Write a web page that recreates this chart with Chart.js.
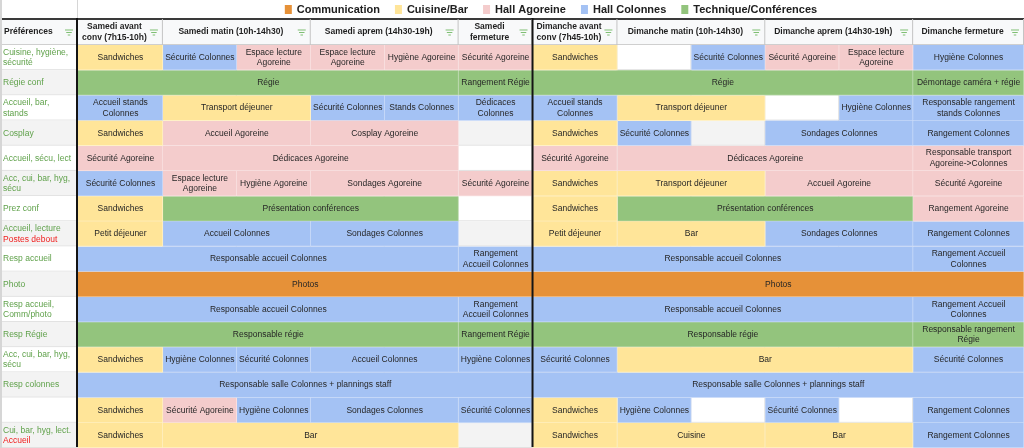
<!DOCTYPE html>
<html lang="fr">
<head>
<meta charset="utf-8">
<title>Planning staff</title>
<script src="https://cdn.jsdelivr.net/npm/chart.js@4.4.1/dist/chart.umd.min.js"></script>
<style>
    html, body { margin: 0; padding: 0; background: #fff; overflow: hidden; }
    canvas { display: block; }
</style>
</head>
<body>
<canvas id="planningChart" width="1024" height="448"></canvas>
<script>
// --- data -------------------------------------------------------------

const categoryNames = ['Communication', 'Cuisine/Bar', 'Hall Agoreine', 'Hall Colonnes', 'Technique/Conférences']

const rowLabels = [
    'Cuisine, hygiène,\nsécurité',
    'Régie conf',
    'Accueil, bar,\nstands',
    'Cosplay',
    'Accueil, sécu, lect',
    'Acc, cui, bar, hyg,\nsécu',
    'Prez conf',
    'Accueil, lecture',
    'Resp accueil',
    'Photo',
    'Resp accueil,\nComm/photo',
    'Resp Régie',
    'Acc, cui, bar, hyg,\nsécu',
    'Resp colonnes',
    '',
    'Cui, bar, hyg, lect.',
]

// second line written in red under some row labels
const rowNotes = ['', '', '', '', '', '', '', 'Postes debout', '', '', '', '', '', '', '', 'Accueil']

const firstColumnTitle = 'Préférences'

const columnTitles = [
    'Samedi avant\nconv (7h15-10h)',
    'Samedi matin (10h-14h30)',
    'Samedi aprem (14h30-19h)',
    'Samedi\nfermeture',
    'Dimanche avant\nconv (7h45-10h)',
    'Dimanche matin (10h-14h30)',
    'Dimanche aprem (14h30-19h)',
    'Dimanche fermeture',
]

// first and last half-slot covered by each column title
const columnSlots = [[0, 1], [1, 3], [3, 5], [5, 6], [6, 7], [7, 9], [9, 11], [11, 12]]

// cells: [row, first slot, end slot, text]
const communicationCells = [
    [9, 0, 6, 'Photos'],
    [9, 6, 12, 'Photos'],
]

const cuisineCells = [
    [0, 0, 1, 'Sandwiches'], [0, 6, 7, 'Sandwiches'],
    [2, 1, 3, 'Transport déjeuner'], [2, 7, 9, 'Transport déjeuner'],
    [3, 0, 1, 'Sandwiches'], [3, 6, 7, 'Sandwiches'],
    [5, 6, 7, 'Sandwiches'], [5, 7, 9, 'Transport déjeuner'],
    [6, 0, 1, 'Sandwiches'], [6, 6, 7, 'Sandwiches'],
    [7, 0, 1, 'Petit déjeuner'], [7, 6, 7, 'Petit déjeuner'], [7, 7, 9, 'Bar'],
    [12, 0, 1, 'Sandwiches'], [12, 7, 11, 'Bar'],
    [14, 0, 1, 'Sandwiches'], [14, 6, 7, 'Sandwiches'],
    [15, 0, 1, 'Sandwiches'], [15, 1, 5, 'Bar'], [15, 6, 7, 'Sandwiches'],
    [15, 7, 9, 'Cuisine'], [15, 9, 11, 'Bar'],
]

const agoreineCells = [
    [0, 2, 3, 'Espace lecture Agoreine'], [0, 3, 4, 'Espace lecture Agoreine'],
    [0, 4, 5, 'Hygiène Agoreine'], [0, 5, 6, 'Sécurité Agoreine'],
    [0, 9, 10, 'Sécurité Agoreine'], [0, 10, 11, 'Espace lecture Agoreine'],
    [3, 1, 3, 'Accueil Agoreine'], [3, 3, 5, 'Cosplay Agoreine'],
    [4, 0, 1, 'Sécurité Agoreine'], [4, 1, 5, 'Dédicaces Agoreine'],
    [4, 6, 7, 'Sécurité Agoreine'], [4, 7, 11, 'Dédicaces Agoreine'],
    [4, 11, 12, 'Responsable transport Agoreine->Colonnes'],
    [5, 1, 2, 'Espace lecture Agoreine'], [5, 2, 3, 'Hygiène Agoreine'],
    [5, 3, 5, 'Sondages Agoreine'], [5, 5, 6, 'Sécurité Agoreine'],
    [5, 9, 11, 'Accueil Agoreine'], [5, 11, 12, 'Sécurité Agoreine'],
    [6, 11, 12, 'Rangement Agoreine'],
    [14, 1, 2, 'Sécurité Agoreine'],
]

const colonnesCells = [
    [0, 1, 2, 'Sécurité Colonnes'], [0, 8, 9, 'Sécurité Colonnes'], [0, 11, 12, 'Hygiène Colonnes'],
    [2, 0, 1, 'Accueil stands Colonnes'], [2, 3, 4, 'Sécurité Colonnes'],
    [2, 4, 5, 'Stands Colonnes'], [2, 5, 6, 'Dédicaces Colonnes'],
    [2, 6, 7, 'Accueil stands Colonnes'], [2, 10, 11, 'Hygiène Colonnes'],
    [2, 11, 12, 'Responsable rangement stands Colonnes'],
    [3, 7, 8, 'Sécurité Colonnes'], [3, 9, 11, 'Sondages Colonnes'], [3, 11, 12, 'Rangement Colonnes'],
    [5, 0, 1, 'Sécurité Colonnes'],
    [7, 1, 3, 'Accueil Colonnes'], [7, 3, 5, 'Sondages Colonnes'],
    [7, 9, 11, 'Sondages Colonnes'], [7, 11, 12, 'Rangement Colonnes'],
    [8, 0, 5, 'Responsable accueil Colonnes'], [8, 5, 6, 'Rangement Accueil Colonnes'],
    [8, 6, 11, 'Responsable accueil Colonnes'], [8, 11, 12, 'Rangement Accueil Colonnes'],
    [10, 0, 5, 'Responsable accueil Colonnes'], [10, 5, 6, 'Rangement Accueil Colonnes'],
    [10, 6, 11, 'Responsable accueil Colonnes'], [10, 11, 12, 'Rangement Accueil Colonnes'],
    [12, 1, 2, 'Hygiène Colonnes'], [12, 2, 3, 'Sécurité Colonnes'], [12, 3, 5, 'Accueil Colonnes'],
    [12, 5, 6, 'Hygiène Colonnes'], [12, 6, 7, 'Sécurité Colonnes'], [12, 11, 12, 'Sécurité Colonnes'],
    [13, 0, 6, 'Responsable salle Colonnes + plannings staff'],
    [13, 6, 12, 'Responsable salle Colonnes + plannings staff'],
    [14, 2, 3, 'Hygiène Colonnes'], [14, 3, 5, 'Sondages Colonnes'], [14, 5, 6, 'Sécurité Colonnes'],
    [14, 7, 8, 'Hygiène Colonnes'], [14, 9, 10, 'Sécurité Colonnes'], [14, 11, 12, 'Rangement Colonnes'],
    [15, 11, 12, 'Rangement Colonnes'],
]

const techniqueCells = [
    [1, 0, 5, 'Régie'], [1, 5, 6, 'Rangement Régie'],
    [1, 6, 11, 'Régie'], [1, 11, 12, 'Démontage caméra + régie'],
    [6, 1, 5, 'Présentation conférences'], [6, 7, 11, 'Présentation conférences'],
    [11, 0, 5, 'Responsable régie'], [11, 5, 6, 'Rangement Régie'],
    [11, 6, 11, 'Responsable régie'], [11, 11, 12, 'Responsable rangement Régie'],
]

// --- layout & style ---------------------------------------------------

// width of each half-slot column on the time axis
const SLOT_WIDTHS = [85, 74, 74, 74, 74, 74, 85, 74, 74, 74, 74, 111]
const COLORS = ['#e69138', '#ffe599', '#f4cccc', '#a4c2f4', '#93c47d']
const FONT = '"Liberation Sans", Arial, sans-serif'
const LINE_H = 10.5

const slotEdges = SLOT_WIDTHS.reduce((acc, w) => {
    acc.push(acc[acc.length - 1] + w)
    return acc
}, [0])

function lighten(hex, amount) {
    const n = parseInt(hex.slice(1), 16)
    const mix = (c) => Math.round(c + (255 - c) * amount)
    return `rgb(${mix(n >> 16)}, ${mix((n >> 8) & 255)}, ${mix(n & 255)})`
}

function toBars(cells) {
    return cells.map(([row, start, end, text]) => ({
        y: 'row' + row,
        x: [slotEdges[start], slotEdges[end]],
        text: text,
    }))
}

function wrapText(ctx, text, maxWidth) {
    const lines = []
    let line = ''
    text.split(' ').forEach((word) => {
        const test = line ? line + ' ' + word : word
        if (line && ctx.measureText(test).width > maxWidth) {
            lines.push(line)
            line = word
        } else {
            line = test
        }
    })
    if (line) lines.push(line)
    return lines
}

function drawLines(ctx, lines, x, cy) {
    lines.forEach((line, k) => {
        ctx.fillText(line, x, cy + (k - (lines.length - 1) / 2) * LINE_H)
    })
}

function drawFilterIcon(ctx, cx, cy) {
    const bars = [[8, -2.5], [5.5, 0], [2.5, 2.5]]
    ctx.strokeStyle = '#7fbf73'
    ctx.lineWidth = 1
    bars.forEach(([w, dy]) => {
        ctx.beginPath()
        ctx.moveTo(cx - w / 2, cy + dy + 0.5)
        ctx.lineTo(cx + w / 2, cy + dy + 0.5)
        ctx.stroke()
    })
}

const sheetPlugin = {
    id: 'sheet',
    beforeDatasetsDraw(chart) {
        const { ctx, chartArea, scales } = chart
        const rowH = chartArea.height / rowLabels.length
        ctx.save()
        rowLabels.forEach((label, i) => {
            const top = scales.y.getPixelForValue(i) - rowH / 2
            ctx.fillStyle = i % 2 ? '#f3f3f3' : '#ffffff'
            ctx.fillRect(0, top, chart.width, rowH)
            ctx.fillStyle = '#e1e1e1'
            ctx.fillRect(0, top + rowH - 1, chart.width, 1)
        })
        ctx.fillStyle = '#e1e1e1'
        slotEdges.forEach((v) => {
            const px = scales.x.getPixelForValue(v)
            ctx.fillRect(px - 1, chartArea.top, 1, chartArea.height)
        })
        ctx.restore()
    },
    afterDatasetsDraw(chart) {
        const { ctx, chartArea, scales } = chart
        const rowH = chartArea.height / rowLabels.length
        const headTop = scales.x.top
        const headBottom = scales.x.bottom
        const headMid = (headTop + headBottom) / 2
        ctx.save()
        ctx.textBaseline = 'middle'

        // text inside every cell
        ctx.font = `8.5px ${FONT}`
        ctx.fillStyle = '#262626'
        ctx.textAlign = 'center'
        chart.data.datasets.forEach((ds, d) => {
            chart.getDatasetMeta(d).data.forEach((bar, j) => {
                const { x, base, y } = bar.getProps(['x', 'base', 'y'], true)
                const lines = wrapText(ctx, ds.data[j].text, Math.abs(x - base) - 3)
                drawLines(ctx, lines, (x + base) / 2, y)
            })
        })

        // row labels, with the red notes
        ctx.textAlign = 'left'
        rowLabels.forEach((label, i) => {
            const cy = scales.y.getPixelForValue(i)
            const lines = label ? label.split('\n') : []
            const colors = lines.map(() => '#5fa14a')
            if (rowNotes[i]) {
                lines.push(rowNotes[i])
                colors.push('#f01c1c')
            }
            lines.forEach((line, k) => {
                ctx.fillStyle = colors[k]
                ctx.fillText(line, 3, cy + (k - (lines.length - 1) / 2) * LINE_H)
            })
        })

        // header row
        ctx.fillStyle = '#f8f9fa'
        ctx.fillRect(0, headTop, chart.width, headBottom - headTop)
        ctx.fillStyle = '#cfcfcf'
        ctx.fillRect(0, headBottom - 1, chart.width, 1)
        ctx.fillStyle = '#3a3a3a'
        ctx.fillRect(0, headTop - 1, chart.width, 2)
        ctx.font = `bold 8.5px ${FONT}`
        ctx.fillStyle = '#1f1f1f'
        ctx.fillText(firstColumnTitle, 4, headMid)
        drawFilterIcon(ctx, chartArea.left - 9, headMid)
        ctx.textAlign = 'center'
        columnTitles.forEach((title, c) => {
            const x0 = scales.x.getPixelForValue(slotEdges[columnSlots[c][0]])
            const x1 = scales.x.getPixelForValue(slotEdges[columnSlots[c][1]])
            ctx.fillStyle = '#c4c4c4'
            ctx.fillRect(x1 - 1, headTop, 1, headBottom - headTop)
            ctx.fillStyle = '#1f1f1f'
            drawLines(ctx, title.split('\n'), (x0 + x1) / 2 - 6, headMid)
            drawFilterIcon(ctx, x1 - 9, headMid)
        })

        // legend, centred over the schedule area
        ctx.font = `bold 11px ${FONT}`
        const items = chart.data.datasets.map((ds) => ({
            label: ds.label,
            color: ds.backgroundColor,
            width: 12 + ctx.measureText(ds.label).width,
        }))
        const gap = 15
        const total = items.reduce((s, it) => s + it.width, 0) + gap * (items.length - 1)
        let lx = (chartArea.left + chartArea.right) / 2 - total / 2
        ctx.textAlign = 'left'
        items.forEach((it) => {
            ctx.fillStyle = it.color
            ctx.fillRect(lx, 5, 7, 9)
            ctx.fillStyle = '#202020'
            ctx.fillText(it.label, lx + 12, 9.5)
            lx += it.width + gap
        })

        // frame lines
        ctx.fillStyle = '#d6d6d6'
        ctx.fillRect(0, 0, 2, chart.height)
        ctx.fillRect(chartArea.left - 1, 0, 1, headTop)
        ctx.fillStyle = '#141414'
        const split = scales.x.getPixelForValue(slotEdges[6])
        ctx.fillRect(chartArea.left - 2, headTop - 1, 2, chart.height - headTop)
        ctx.fillRect(split - 1, headTop - 1, 2, chart.height - headTop)
        ctx.restore()
    },
}

const cellGroups = [communicationCells, cuisineCells, agoreineCells, colonnesCells, techniqueCells]

const datasets = cellGroups.map((cells, i) => ({
    label: categoryNames[i],
    data: toBars(cells),
    backgroundColor: COLORS[i],
    borderColor: lighten(COLORS[i], 0.45),
    borderWidth: { top: 0, right: 1, bottom: 1, left: 0 },
    borderSkipped: false,
}))

const ctx = document.getElementById('planningChart').getContext('2d')
new Chart(ctx, {
    type: 'bar',
    data: {
        labels: rowLabels.map((_, i) => 'row' + i),
        datasets: datasets,
    },
    options: {
        indexAxis: 'y',
        responsive: false,
        animation: false,
        events: [],
        layout: { padding: { left: 78, top: 19, right: 0, bottom: 0 } },
        datasets: {
            bar: { grouped: false, barPercentage: 1, categoryPercentage: 1 },
        },
        scales: {
            x: {
                type: 'linear',
                position: 'top',
                min: 0,
                max: slotEdges[slotEdges.length - 1],
                ticks: { display: false },
                grid: { display: false },
                border: { display: false },
                afterFit: (scale) => {
                    scale.height = 26
                },
            },
            y: { display: false },
        },
        plugins: {
            legend: { display: false },
            tooltip: { enabled: false },
        },
    },
    plugins: [sheetPlugin],
})
</script>
</body>
</html>
